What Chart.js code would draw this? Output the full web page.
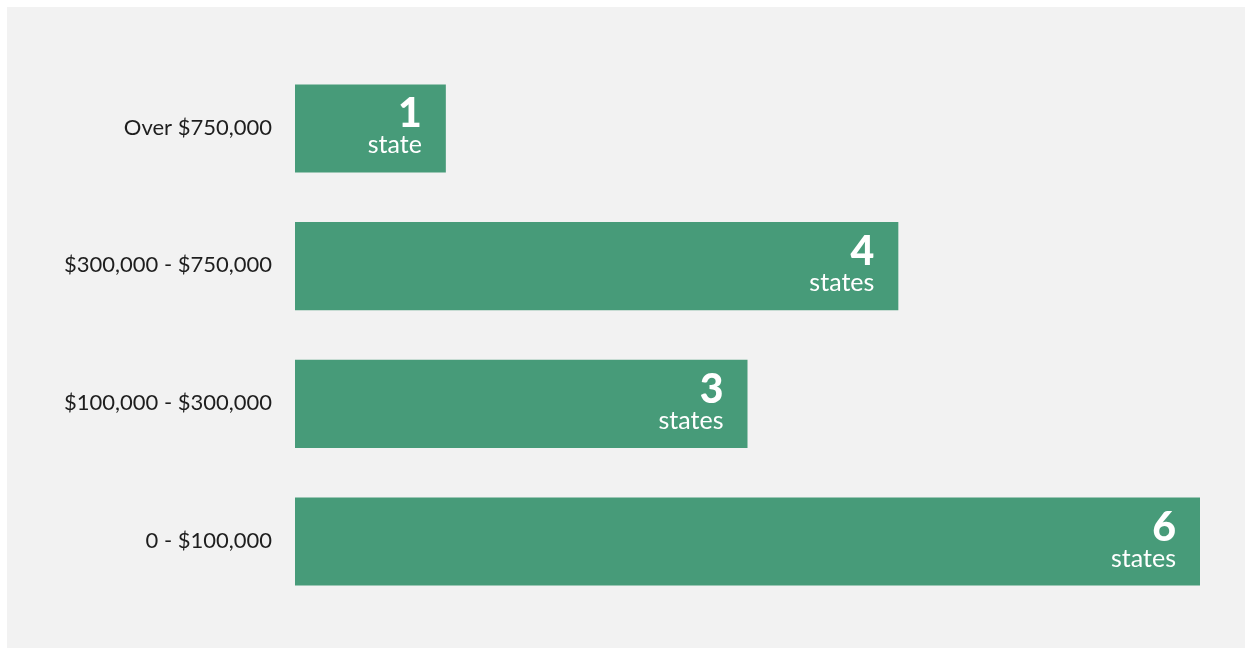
<!DOCTYPE html>
<html>
<head>
<meta charset="utf-8">
<script src="https://cdn.jsdelivr.net/npm/chart.js@4"></script>
<style>
  html, body { margin: 0; padding: 0; background: #ffffff; }
  #panel { position: absolute; left: 7px; top: 7px; width: 1238px; height: 641px; background: #f2f2f2; }
  #c { display: block; }
</style>
</head>
<body>
<div id="panel"><canvas id="c" width="1238" height="641"></canvas></div>
<script>
const categories = ["Over $750,000", "$300,000 - $750,000", "$100,000 - $300,000", "0 - $100,000"];
const stateCounts = [1, 4, 3, 6];
const unitLabels = ["state", "states", "states", "states"];

const barColor = "#479b79";

const barLabelPlugin = {
  id: "barLabels",
  afterDatasetsDraw(chart) {
    const ctx = chart.ctx;
    const meta = chart.getDatasetMeta(0);
    ctx.save();
    ctx.fillStyle = "#ffffff";
    ctx.textAlign = "right";
    ctx.textBaseline = "alphabetic";
    meta.data.forEach((bar, i) => {
      const xr = bar.x - 24;
      ctx.font = "900 41px Lato";
      ctx.fillText(String(stateCounts[i]), xr, bar.y - 1);
      ctx.font = "400 25px Lato";
      ctx.fillText(unitLabels[i], xr, bar.y + 25);
    });
    ctx.restore();
  }
};

new Chart(document.getElementById("c"), {
  type: "bar",
  data: {
    labels: categories,
    datasets: [{
      data: stateCounts,
      backgroundColor: barColor,
      borderWidth: 0,
      barPercentage: 0.64,
      categoryPercentage: 1.0
    }]
  },
  options: {
    indexAxis: "y",
    responsive: false,
    animation: false,
    layout: { padding: { top: 52.6, bottom: 37.6, right: 45, left: 0 } },
    plugins: { legend: { display: false }, tooltip: { enabled: false } },
    scales: {
      x: { display: false, min: 0, max: 6 },
      y: {
        grid: { display: false },
        border: { display: false },
        afterFit(scale) { scale.width = 288; },
        ticks: {
          padding: 15,
          labelOffset: -1,
          color: "#1e1e1e",
          font: { family: "Lato", size: 22 }
        }
      }
    }
  },
  plugins: [barLabelPlugin]
});
</script>
</body>
</html>
